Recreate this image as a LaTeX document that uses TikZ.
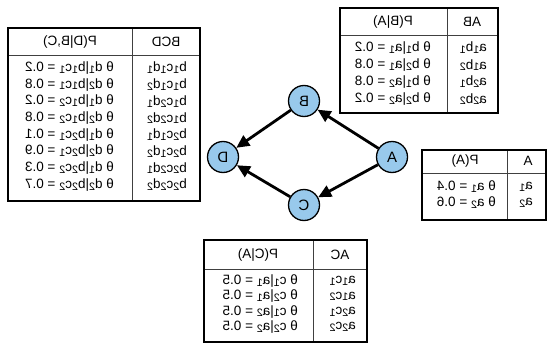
\documentclass[tikz,border=0pt]{standalone}
\usepackage{graphicx}
\usepackage{fontspec}
\setmainfont{Liberation Sans}
\usetikzlibrary{arrows.meta}
\definecolor{nodeblue}{RGB}{152,201,236}
\newcommand\mirtxt[1]{\reflectbox{#1}}
\newcommand\sbs[1]{\raisebox{-0.25ex}{\scalebox{0.8}{#1}}}
\tikzset{
  frame/.style={draw=black, line width=2.8pt},
  sepline/.style={draw=black!75, line width=0.8pt},
  cell/.style={font=\fontsize{13.5}{15}\selectfont, inner sep=0pt, anchor=east},
  hdr/.style={font=\fontsize{13.5}{15}\selectfont, inner sep=0pt},
  bnode/.style={circle, draw=black, line width=1.3pt, fill=nodeblue, minimum size=31pt, inner sep=0pt, font=\fontsize{15}{17}\selectfont},
  arr/.style={draw=black, line width=2.8pt, -{Triangle[length=13pt,width=12pt]}},
}
\begin{document}
\begin{tikzpicture}[x=1pt,y=-1pt]
\useasboundingbox (0,0) rectangle (548,345);

% ---------- network ----------
\node[bnode] (B) at (304,101) {\mirtxt{B}};
\node[bnode] (D) at (223,157) {\mirtxt{D}};
\node[bnode] (A) at (392,157) {\mirtxt{A}};
\node[bnode] (C) at (304,205) {\mirtxt{C}};
\draw[arr] (A) -- (B);
\draw[arr] (A) -- (C);
\draw[arr] (B) -- (D);
\draw[arr] (C) -- (D);

% ---------- table P(D|B,C) ----------
\draw[sepline] (8,55) -- (200,55);
\draw[sepline] (132,28) -- (132,201);
\draw[frame] (8,28) rectangle (200,201);
\node[hdr] (hBCD) at (166,42) {\mirtxt{BCD}};
\node[hdr] (hPD) at (70,42) {\mirtxt{P(D|B,C)}};
\foreach \i/\lab/\val in {
  0/b\sbs{1}c\sbs{1}d\sbs{1}/{θ d\sbs{1}|b\sbs{1}c\sbs{1} = 0.2},
  1/b\sbs{1}c\sbs{1}d\sbs{2}/{θ d\sbs{2}|b\sbs{1}c\sbs{1} = 0.8},
  2/b\sbs{1}c\sbs{2}d\sbs{1}/{θ d\sbs{1}|b\sbs{1}c\sbs{2} = 0.2},
  3/b\sbs{1}c\sbs{2}d\sbs{2}/{θ d\sbs{2}|b\sbs{1}c\sbs{2} = 0.8},
  4/b\sbs{2}c\sbs{1}d\sbs{1}/{θ d\sbs{1}|b\sbs{2}c\sbs{1} = 0.1},
  5/b\sbs{2}c\sbs{1}d\sbs{2}/{θ d\sbs{2}|b\sbs{2}c\sbs{1} = 0.9},
  6/b\sbs{2}c\sbs{2}d\sbs{1}/{θ d\sbs{1}|b\sbs{2}c\sbs{2} = 0.3},
  7/b\sbs{2}c\sbs{2}d\sbs{2}/{θ d\sbs{2}|b\sbs{2}c\sbs{2} = 0.7}} {
  \node[cell] (bcdl\i) at (187,68+16.7*\i) {\mirtxt{\lab}};
  \node[cell] (bcdv\i) at (114,68+16.7*\i) {\mirtxt{\val}};
}

% ---------- table P(B|A) ----------
\draw[sepline] (340,35) -- (498,35);
\draw[sepline] (447,8) -- (447,113);
\draw[frame] (340,8) rectangle (498,113);
\node[hdr] (hAB) at (472,22) {\mirtxt{AB}};
\node[hdr] (hPB) at (393,22) {\mirtxt{P(B|A)}};
\foreach \i/\lab/\val in {
  0/a\sbs{1}b\sbs{1}/{θ b\sbs{1}|a\sbs{1} = 0.2},
  1/a\sbs{1}b\sbs{2}/{θ b\sbs{2}|a\sbs{1} = 0.8},
  2/a\sbs{2}b\sbs{1}/{θ b\sbs{1}|a\sbs{2} = 0.8},
  3/a\sbs{2}b\sbs{2}/{θ b\sbs{2}|a\sbs{2} = 0.2}} {
  \node[cell] (abl\i) at (487,48+17*\i) {\mirtxt{\lab}};
  \node[cell] (abv\i) at (431,48+17*\i) {\mirtxt{\val}};
}

% ---------- table P(A) ----------
\draw[sepline] (422,173) -- (546,173);
\draw[sepline] (507,150) -- (507,220);
\draw[frame] (422,150) rectangle (546,220);
\node[hdr] (hA) at (528,161) {\mirtxt{A}};
\node[hdr] (hPA) at (465,161) {\mirtxt{P(A)}};
\node[cell] (al0) at (533,187) {\mirtxt{a\sbs{1}}};
\node[cell] (al1) at (533,203) {\mirtxt{a\sbs{2}}};
\node[cell] (av0) at (496,187) {\mirtxt{θ a\sbs{1} = 0.4}};
\node[cell] (av1) at (496,203) {\mirtxt{θ a\sbs{2} = 0.6}};

% ---------- table P(C|A) ----------
\draw[sepline] (204,269) -- (367,269);
\draw[sepline] (313,240) -- (313,342);
\draw[frame] (204,240) rectangle (367,342);
\node[hdr] (hAC) at (340,255) {\mirtxt{AC}};
\node[hdr] (hPC) at (258,255) {\mirtxt{P(C|A)}};
\foreach \i/\lab/\val in {
  0/a\sbs{1}c\sbs{1}/{θ c\sbs{1}|a\sbs{1} = 0.5},
  1/a\sbs{1}c\sbs{2}/{θ c\sbs{2}|a\sbs{1} = 0.5},
  2/a\sbs{2}c\sbs{1}/{θ c\sbs{1}|a\sbs{2} = 0.5},
  3/a\sbs{2}c\sbs{2}/{θ c\sbs{2}|a\sbs{2} = 0.5}} {
  \node[cell] (acl\i) at (356,281+15.3*\i) {\mirtxt{\lab}};
  \node[cell] (acv\i) at (298,281+15.3*\i) {\mirtxt{\val}};
}
\end{tikzpicture}
\end{document}
